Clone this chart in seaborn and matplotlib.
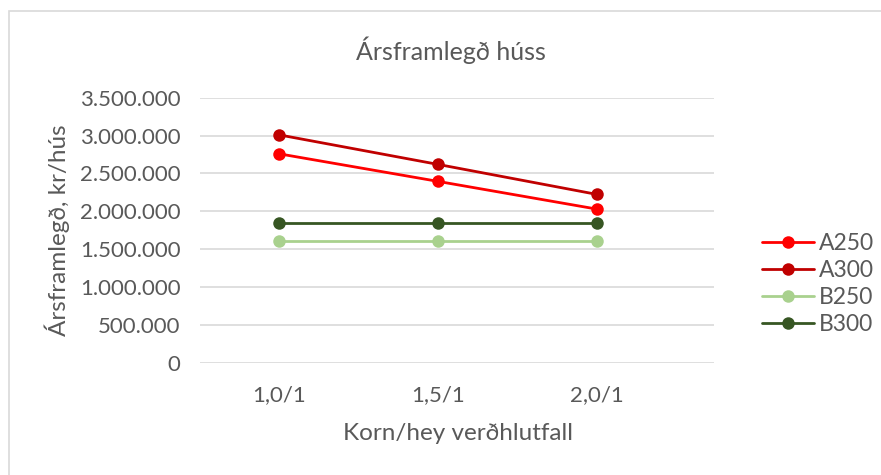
import pandas as pd
import matplotlib.pyplot as plt
import matplotlib.ticker as mticker
import seaborn as sns

# Values
hlutfall = ['1,0/1', '1,5/1', '2,0/1']
a250 = [2760000, 2396000, 2030000]
a300 = [3010000, 2620000, 2224000]
b250 = [1610000, 1610000, 1610000]
b300 = [1842000, 1842000, 1842000]
series = ['A250', 'A300', 'B250', 'B300']
colors = ['#FF0000', '#C00000', '#A9D18E', '#375623']

df = pd.DataFrame({
    'hlutfall': hlutfall * 4,
    'value': a250 + a300 + b250 + b300,
    'series': [s for s in series for _ in hlutfall],
})

sns.set_style('white')
plt.rcParams['font.family'] = ['Lato', 'DejaVu Sans']
grey = '#595959'

W, H = 881, 475
fig = plt.figure(figsize=(W / 100, H / 100), dpi=100)
ax = fig.add_axes([200 / W, 1 - 363 / H, 514 / W, 265.3 / H])

# light chart border
fig.patches.append(plt.Rectangle((9 / W, -0.1), 1.2, (H - 11) / H + 0.1,
                                 transform=fig.transFigure, fill=False,
                                 edgecolor='#D9D9D9', linewidth=1.2))

sns.lineplot(data=df, x='hlutfall', y='value', hue='series', hue_order=series,
             palette=colors, marker='o', markersize=9, markeredgewidth=0,
             linewidth=2, ax=ax, legend=True)

ax.set_xlim(-0.497, 2.736)
ax.set_ylim(0, 3500000)
ax.yaxis.set_major_locator(mticker.MultipleLocator(500000))
ax.yaxis.set_major_formatter(mticker.FuncFormatter(lambda v, p: f'{int(v):,}'.replace(',', '.')))
ax.grid(axis='y', color='#D9D9D9', linewidth=1.2)
ax.set_axisbelow(True)
for s in ax.spines.values():
    s.set_visible(False)
ax.tick_params(length=0, labelsize=16, colors=grey)
ax.tick_params(axis='y', pad=14)
ax.tick_params(axis='x', pad=16)

ax.set_xlabel('')
ax.set_ylabel('')
fig.text(458 / W, 1 - 433 / H, 'Korn/hey verðhlutfall', ha='center', va='center',
         fontsize=17.5, color=grey)
fig.text(57 / W, 1 - 230 / H, 'Ársframlegð, kr/hús', ha='center', va='center',
         rotation=90, fontsize=17.5, color=grey)
fig.text(451 / W, 1 - 50 / H, 'Ársframlegð húss', ha='center', va='center',
         fontsize=18, color=grey)

handles, labels = ax.get_legend_handles_labels()
ax.legend(handles, labels, loc='center left', bbox_to_anchor=(741 / W, 1 - 284 / H),
          bbox_transform=fig.transFigure, frameon=False, fontsize=16.5,
          labelcolor=grey, handlelength=2.3, handletextpad=0.2, labelspacing=0.27)

fig.savefig('out.png', dpi=100)
